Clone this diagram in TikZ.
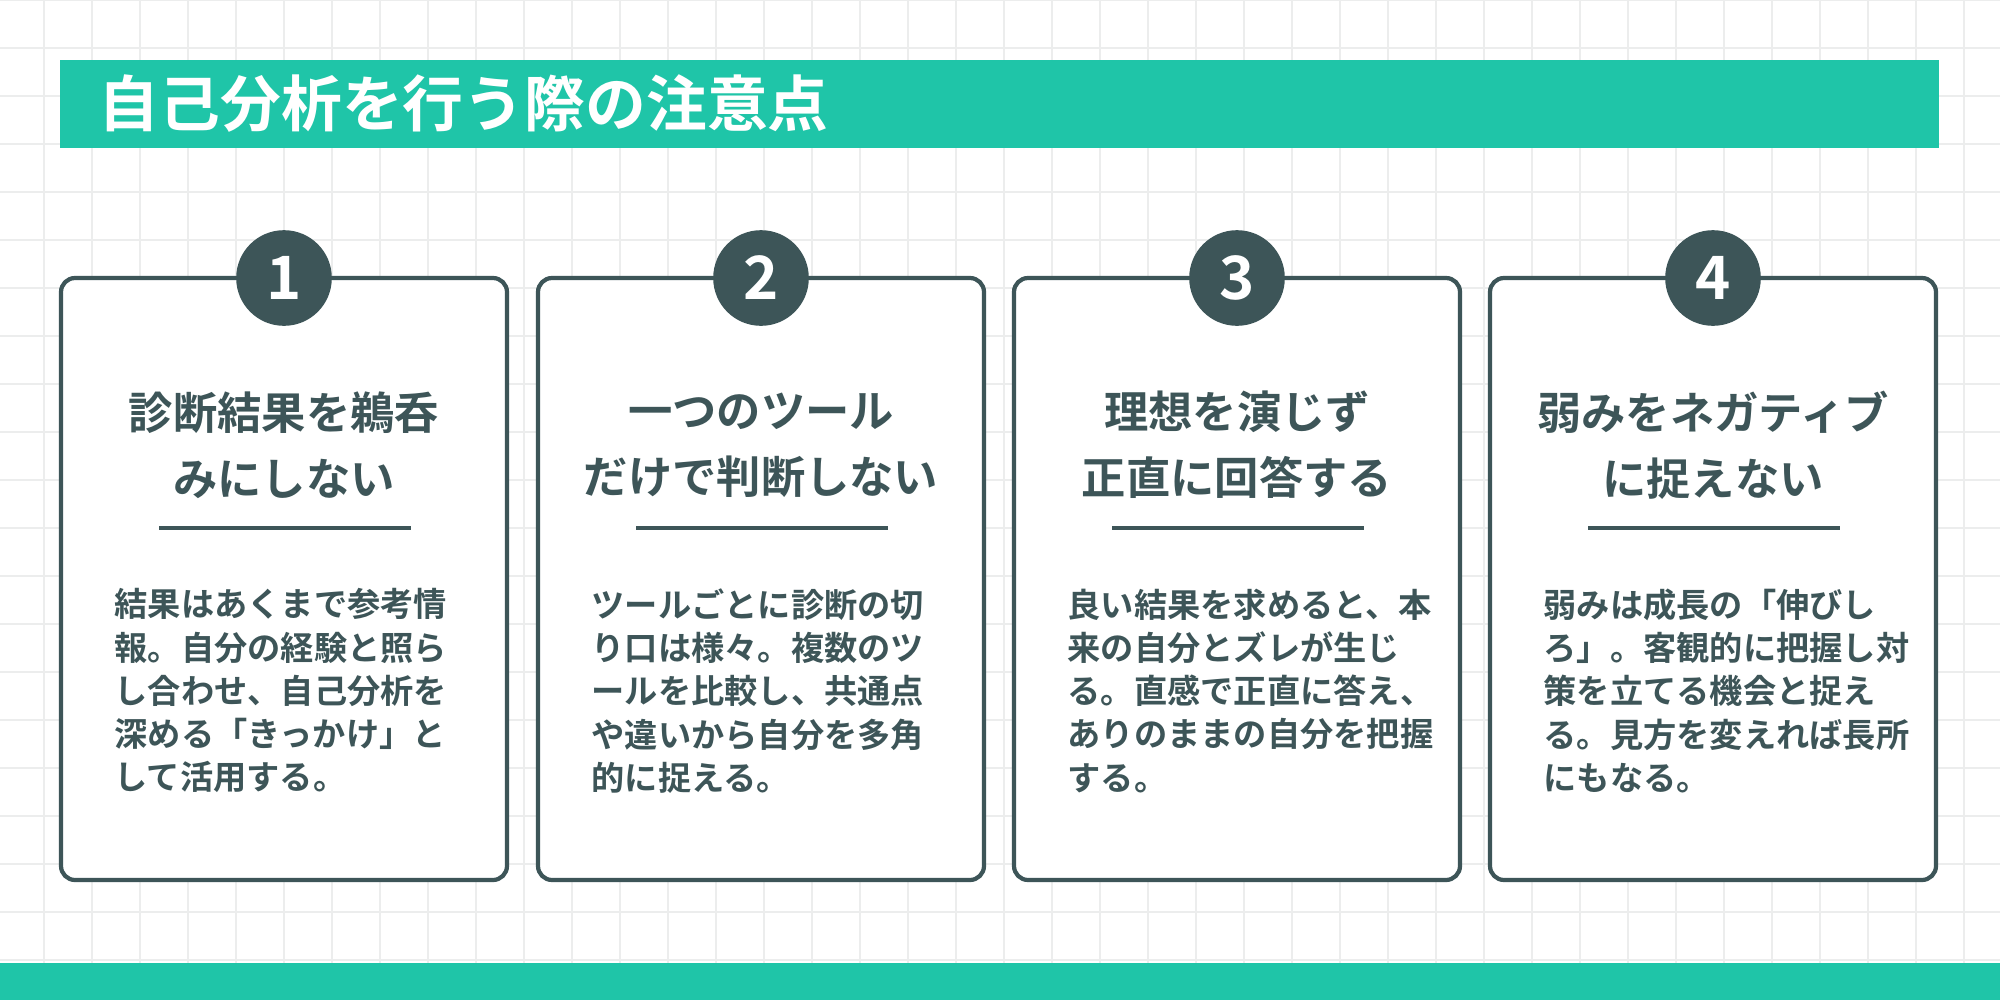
\documentclass[tikz,border=0pt]{standalone}
\usepackage{fontspec}
\setmainfont{Noto Sans CJK JP Bold}
\definecolor{teal}{HTML}{1FC5A8}
\definecolor{dk}{HTML}{3D5558}
\definecolor{gridc}{HTML}{ECEDED}
\begin{document}
\begin{tikzpicture}[x=0.01cm,y=-0.01cm,
  card/.style={draw=dk,line width=1.2pt,rounded corners=4pt,fill=white},
  num/.style={circle,fill=dk,minimum size=27.2pt,inner sep=0,text=white,font=\fontsize{17}{17}\selectfont},
  head/.style={text=dk,align=center,font=\fontsize{12.6}{18.7}\selectfont,anchor=center},
  body/.style={text=dk,align=left,anchor=north west,inner sep=0,font=\fontsize{9.45}{12.3}\selectfont}]
\useasboundingbox (0,0) rectangle (2000,1000);
\fill[white] (0,0) rectangle (2000,1000);
\foreach \i in {0,...,42} {\draw[gridc,line width=0.5pt] (\i*48-4,0) -- (\i*48-4,1000);}
\foreach \j in {0,...,21} {\draw[gridc,line width=0.5pt] (0,\j*48) -- (2000,\j*48);}
\fill[teal] (60,60) rectangle (1939,148);
\node[anchor=west,text=white,inner sep=0,font=\fontsize{17.3}{17.3}\selectfont] (title) at (98,104) {自己分析を行う際の注意点};
\fill[teal] (0,963) rectangle (2000,1000);
\foreach \n/\l/\ha/\hb/\bt in {
 1/61/診断結果を鵜呑/みにしない/{結果はあくまで参考情\\報。自分の経験と照ら\\し合わせ、自己分析を\\深める「きっかけ」と\\して活用する。},
 2/538/一つのツール/だけで判断しない/{ツールごとに診断の切\\り口は様々。複数のツ\\ールを比較し、共通点\\や違いから自分を多角\\的に捉える。},
 3/1014/理想を演じず/正直に回答する/{良い結果を求めると、本\\来の自分とズレが生じ\\る。直感で正直に答え、\\ありのままの自分を把握\\する。},
 4/1490/弱みをネガティブ/に捉えない/{弱みは成長の「伸びし\\ろ」。客観的に把握し対\\策を立てる機会と捉え\\る。見方を変えれば長所\\にもなる。}} {
  \draw[card] (\l,278) rectangle (\l+446,880);
  \node[num] (c\n) at (\l+223,278) {\n};
  \node[head] (h\n) at (\l+223,445) {\ha\\\hb};
  \draw[dk,line width=1.4pt] (\l+98,528) -- (\l+350,528);
  \node[body] (b\n) at (\l+53,588) {\bt};
}
\end{tikzpicture}
\end{document}
